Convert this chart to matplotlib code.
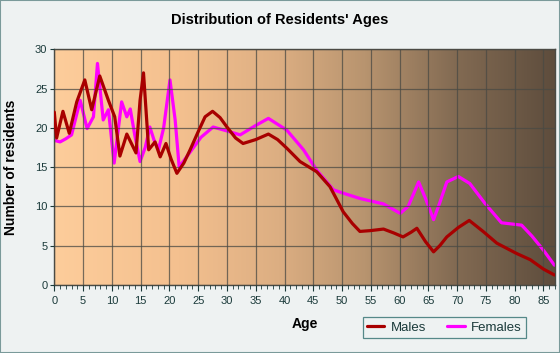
import numpy as np
import matplotlib
matplotlib.use("Agg")
import matplotlib.pyplot as plt
from matplotlib.colors import LinearSegmentedColormap
from matplotlib.patches import Rectangle

# -------------------------------
# Data
# -------------------------------
male_ages = [0, 0.4, 1.5, 2.6, 3.9, 5.3, 6.5, 7.9, 9.4, 10.5, 11.4, 12.6, 14.2, 14.9,
             15.5, 16.4, 17.5, 18.4, 19.4, 20.3, 21.3, 22.5, 23.6, 25.0, 26.2, 27.5,
             28.8, 30.0, 31.5, 32.8, 35.0, 37.2, 38.8, 40.4, 42.7, 45.6, 47.9, 50.2,
             51.8, 53.1, 54.9, 57.2, 59.0, 60.6, 62.0, 63.0, 64.5, 65.9, 67.0, 68.2,
             70.2, 72.1, 74.5, 76.9, 80.3, 82.7, 85.0, 86.9]
males = [22.0, 18.7, 22.1, 19.3, 23.3, 26.1, 22.3, 26.6, 23.5, 21.4, 16.4, 19.2, 16.8, 23.5,
         27.0, 17.2, 18.2, 16.3, 18.0, 16.0, 14.2, 15.5, 17.2, 19.5, 21.4, 22.1,
         21.3, 20.1, 18.7, 18.0, 18.5, 19.2, 18.5, 17.4, 15.7, 14.4, 12.5, 9.3,
         7.8, 6.8, 6.9, 7.1, 6.6, 6.1, 6.7, 7.2, 5.5, 4.2, 5.0, 6.1,
         7.3, 8.2, 6.8, 5.3, 4.0, 3.2, 2.0, 1.25]

female_ages = [0, 1.0, 2.0, 3.0, 4.5, 5.7, 6.8, 7.5, 8.5, 9.4, 10.4, 11.7, 12.6, 13.2,
               14.0, 14.9, 15.8, 16.6, 17.3, 18.1, 19.0, 20.1, 21.0, 21.7, 22.5, 23.9,
               25.5, 27.6, 30.0, 32.3, 35.0, 37.2, 40.4, 43.3, 45.6, 48.5, 50.5, 53.1,
               57.2, 60.1, 61.5, 63.3, 64.5, 65.9, 67.0, 68.2, 70.2, 72.2, 74.8, 77.7,
               81.2, 83.0, 85.0, 86.9]
females = [18.4, 18.2, 18.6, 19.1, 23.5, 19.9, 21.4, 28.2, 21.0, 22.3, 15.5, 23.3, 21.4, 22.4,
           19.0, 15.7, 17.5, 20.1, 18.5, 17.2, 20.0, 26.1, 21.0, 15.0, 15.8, 17.2,
           18.8, 20.1, 19.6, 19.1, 20.3, 21.2, 19.7, 17.2, 14.6, 12.1, 11.6, 11.0,
           10.3, 9.1, 10.0, 13.1, 11.0, 8.3, 10.5, 13.1, 13.8, 12.9, 10.4, 7.9,
           7.6, 6.2, 4.4, 2.5]

x_ticks = list(range(0, 90, 5))
y_ticks = list(range(0, 35, 5))

# -------------------------------
# Figure
# -------------------------------
plt.rcParams["font.family"] = ["Liberation Sans", "DejaVu Sans"]

fig = plt.figure(figsize=(5.6, 3.53), dpi=100, facecolor="#eef2f2")
fig.patches.append(Rectangle((0, 0), 1, 1, transform=fig.transFigure,
                             fill=False, edgecolor="#7a9a9a", linewidth=1.5))

ax = fig.add_axes([54.3 / 560, 68.2 / 353, 500.7 / 560, 235.5 / 353])

# background gradient
bg = LinearSegmentedColormap.from_list("bg", [
    (0.0, "#fdcd9b"), (0.25, "#f4c08f"), (0.45, "#dcae82"),
    (0.62, "#b8946f"), (0.8, "#836b53"), (1.0, "#5e4d3d")])
grad = np.linspace(0, 1, 256).reshape(1, -1)
ax.imshow(grad, extent=[0, 87, 0, 30], aspect="auto", cmap=bg, zorder=0)

ax.set_xlim(0, 87)
ax.set_ylim(0, 30)
ax.set_xticks(x_ticks)
ax.set_yticks(y_ticks)
ax.set_xticks(range(0, 88), minor=True)
ax.grid(True, which="major", color="#4a4a44", linewidth=0.9, alpha=0.75)
ax.set_axisbelow(False)

ax.plot(male_ages, males, color="#a80000", linewidth=2.3, label="Males",
        solid_joinstyle="round", solid_capstyle="round", zorder=3)
ax.plot(female_ages, females, color="#ff00ff", linewidth=2.3, label="Females",
        solid_joinstyle="round", solid_capstyle="round", zorder=2)

for s in ax.spines.values():
    s.set_color("#4a4a44")
    s.set_linewidth(1.0)

ax.tick_params(axis="x", which="major", length=4, color="#1a3a3a",
               labelsize=8, labelcolor="#1a3a3a", pad=4)
ax.tick_params(axis="x", which="minor", length=3, color="#1a3a3a")
ax.tick_params(axis="y", which="major", length=3, color="#1a3a3a",
               labelsize=8, labelcolor="#1a3a3a", pad=2)

ax.set_xlabel("Age", fontsize=10, fontweight="bold", labelpad=8)
ax.set_ylabel("Number of residents", fontsize=10, fontweight="bold", labelpad=12)

fig.text(0.5, 1 - 20 / 353, "Distribution of Residents' Ages",
         ha="center", va="center", fontsize=10.5, fontweight="bold")

leg = ax.legend(loc="center", bbox_to_anchor=(444.5 / 560, 1 - 327.5 / 353),
                bbox_transform=fig.transFigure, ncol=2, frameon=True,
                fancybox=False, edgecolor="#2f6f6f", facecolor="none",
                fontsize=9.5, handlelength=1.3, columnspacing=1.6,
                handletextpad=0.5, borderpad=0.35)
leg.get_frame().set_linewidth(0.9)
for t in leg.get_texts():
    t.set_color("#1a3a3a")

fig.savefig("out.png", dpi=100, facecolor=fig.get_facecolor())
